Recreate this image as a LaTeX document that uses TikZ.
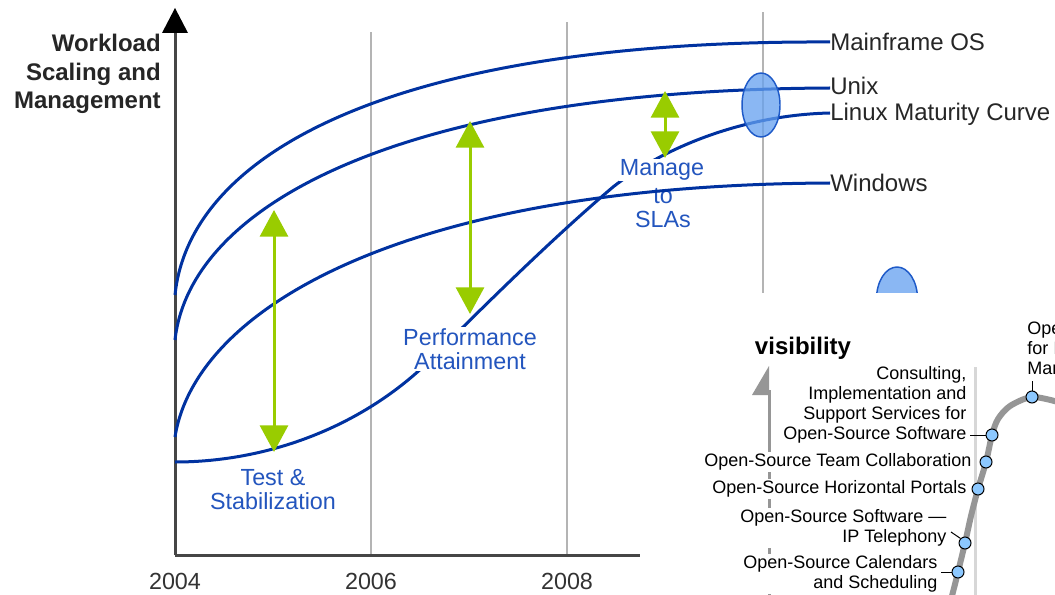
\documentclass[tikz,border=0pt]{standalone}
\usepackage{fontspec}
\setmainfont{Liberation Sans}
\usetikzlibrary{arrows.meta}
\definecolor{curveblue}{RGB}{0,50,160}
\definecolor{textblue}{RGB}{35,85,190}
\definecolor{limegreen}{RGB}{153,204,0}
\definecolor{ellfill}{RGB}{100,160,240}
\definecolor{elldraw}{RGB}{30,90,200}
\definecolor{gridgray}{RGB}{180,180,180}
\definecolor{axisgray}{RGB}{70,70,70}
\definecolor{hypegray}{RGB}{150,150,150}
\definecolor{lightgridgray}{RGB}{215,215,215}
\definecolor{dotblue}{RGB}{140,200,255}
\tikzset{
  curve/.style={curveblue, line width=2.25pt},
  rlbl/.style={text=black!85, font=\fontsize{18}{21}\selectfont, anchor=west, inner sep=1.5pt},
  ticklbl/.style={text=black!80, font=\fontsize{17.5}{21}\selectfont, inner sep=0pt},
  bluelbl/.style={text=textblue, font=\fontsize{17.5}{18}\selectfont, align=center, inner sep=1pt},
  garrow/.style={limegreen, line width=2.25pt, {Triangle[width=21pt,length=20pt]}-{Triangle[width=21pt,length=20pt]}},
  gridline/.style={gridgray, line width=1.5pt},
  insetlbl/.style={font=\fontsize{13.5}{15}\selectfont, align=right, anchor=east, fill=white, inner sep=1pt},
  hdot/.style={circle, draw=black, fill=dotblue, line width=0.75pt, minimum size=9pt, inner sep=0pt},
  blueell/.style={fill=ellfill, fill opacity=0.75, draw=elldraw, line width=1.1pt},
  leader/.style={black, line width=0.75pt}
}
\begin{document}
\begin{tikzpicture}[x=0.75pt,y=-0.75pt]
\useasboundingbox (0,0) rectangle (1055,595);
\begin{scope}
\clip (0,0) rectangle (1055,595);
\fill[white] (0,0) rectangle (1055,595);

% grid lines
\draw[gridline] (371,555) -- (371,32);
\draw[gridline] (567,555) -- (567,22);
\draw[gridline] (763,555) -- (763,12);

% axes
\coordinate (origin) at (175,555);
\coordinate (ytop) at (175,8);
\coordinate (xend) at (640,555);
\draw[axisgray, line width=2.25pt] (origin) -- (175,30);
\draw[axisgray, line width=2.25pt] (origin) -- (xend);
\fill[black] (ytop) -- (188,33) -- (162,33) -- cycle;

\node[ticklbl] (t2004) at (175,581) {2004};
\node[ticklbl] (t2006) at (371,581) {2006};
\node[ticklbl] (t2008) at (567,581) {2008};

\node[text=black!85, font=\bfseries\fontsize{18}{21.5}\selectfont, align=right, anchor=east, inner sep=0pt] (ylab) at (161,74) {Workload\\Scaling and\\Management};

% Linux curve
\draw[curve] (175,462) .. controls (270,462) and (370,425) .. (440,350)
  .. controls (500,290) and (560,232) .. (613,187)
  .. controls (660,150) and (740,115) .. (830,113);

% blue labels
\node[bluelbl, fill=white] (perf) at (470,349) {Performance\\Attainment};
\node[bluelbl, fill=white, inner sep=0.5pt] (manage) at (662,170) {Manage};
\node[bluelbl] (tosla) at (663,208) {to\\SLAs};
\node[bluelbl] (test) at (273,490) {Test \&\\Stabilization};

% other curves
\draw[curve] (175,295) .. controls (190,150) and (400,40) .. (830,42);
\draw[curve] (175,340) .. controls (190,205) and (400,90) .. (830,88);
\draw[curve] (175,437) .. controls (195,310) and (400,185) .. (830,183);

% green arrows
\coordinate (a1t) at (274,210);
\coordinate (a1b) at (274,452);
\coordinate (a2t) at (470,121);
\coordinate (a2b) at (470,314);
\coordinate (a3t) at (665,91);
\coordinate (a3b) at (665,158);
\draw[garrow] (a1t) -- (a1b);
\draw[garrow] (a2t) -- (a2b);
\draw[garrow] (a3t) -- (a3b);

% ellipses
\draw[blueell] (761,105) ellipse [x radius=19, y radius=32];
\draw[blueell] (897,299) ellipse [x radius=20.5, y radius=32];

% right labels
\node[rlbl] (mf) at (828,42) {Mainframe OS};
\node[rlbl] (ux) at (828,86) {Unix};
\node[rlbl] (lx) at (828,114) {Linux Maturity Curve};
\node[rlbl] (win) at (828,183) {Windows};

% inset
\fill[white] (640,293) rectangle (1055,600);
\node[font=\bfseries\fontsize{18}{21}\selectfont, inner sep=0pt] (vis) at (803,348) {visibility};
\draw[hypegray, line width=2.25pt] (769,600) -- (769,390);
\fill[hypegray] (769,366) -- (769,395) -- (752,395) -- cycle;
\draw[lightgridgray, line width=2.25pt] (975,367) -- (975,600);
\draw[hypegray, line width=4.5pt] plot[smooth, tension=0.5] coordinates {(1058,402) (1032,397) (1010,406) (998,419) (992,435) (986,462) (978,489) (971,516) (965,543) (958,572) (951,600)};

\node[insetlbl] (cons) at (968,405) {Consulting,\\Implementation and\\Support Services for\\Open-Source Software};
\node[insetlbl] (team) at (973,462) {Open-Source Team Collaboration};
\node[insetlbl] (port) at (968,489) {Open-Source Horizontal Portals};
\node[insetlbl] (tel) at (948,528) {Open-Source Software ---\\IP Telephony};
\node[insetlbl] (cal) at (939,574) {Open-Source Calendars\\and Scheduling};
\node[font=\fontsize{13.5}{15}\selectfont, align=left, anchor=north west, inner sep=0pt] (topl) at (1027,321) {Open-Source Software\\for IT Service\\Management};

\node[hdot] (d0) at (1032,397) {};
\node[hdot] (d1) at (992,435) {};
\node[hdot] (d2) at (986,462) {};
\node[hdot] (d3) at (978,489) {};
\node[hdot] (d4) at (965,543) {};
\node[hdot] (d5) at (958,572) {};

\coordinate (l0) at (1032,381);
\coordinate (l1) at (970,435);
\coordinate (l4) at (951,532);
\coordinate (l5) at (941,572);
\draw[leader] (l0) -- (d0.north);
\draw[leader] (l1) -- (d1.west);
\draw[leader] (l4) -- (d4.north west);
\draw[leader] (l5) -- (d5.west);
\end{scope}
\end{tikzpicture}
\end{document}
